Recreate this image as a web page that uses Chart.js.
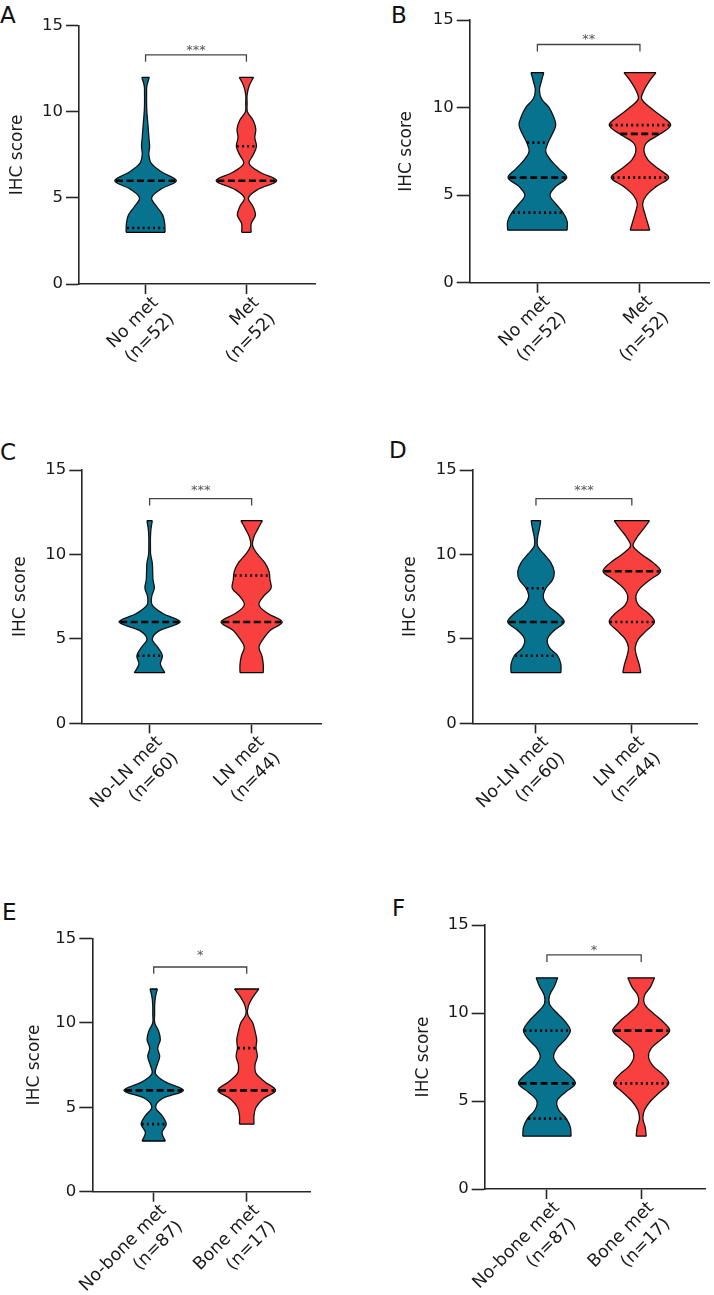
<!DOCTYPE html>
<html>
<head>
<meta charset="utf-8">
<script src="https://cdn.jsdelivr.net/npm/chart.js@4.4.0/dist/chart.umd.min.js"></script>
<style>
  body { margin: 0; background: #fff; width: 714px; height: 1295px; position: relative; overflow: hidden; font-family: "DejaVu Sans", sans-serif; }
  canvas { position: absolute; }
  .tag { position: absolute; font-size: 23px; line-height: 23px; color: #111; }
</style>
</head>
<body>
<div class="tag" style="left:0px;top:4px">A</div>
<div class="tag" style="left:391px;top:3.5px">B</div>
<div class="tag" style="left:0px;top:441px">C</div>
<div class="tag" style="left:389px;top:439px">D</div>
<div class="tag" style="left:2px;top:901px">E</div>
<div class="tag" style="left:392px;top:897px">F</div>

<canvas id="panelA"></canvas>
<canvas id="panelB"></canvas>
<canvas id="panelC"></canvas>
<canvas id="panelD"></canvas>
<canvas id="panelE"></canvas>
<canvas id="panelF"></canvas>

<script>
// score levels at which the violin half-widths were read
const scoreLevels = [3, 3.5, 4, 4.5, 5, 5.5, 6, 6.5, 7, 7.5, 8, 8.5, 9, 9.5, 10, 10.5, 11, 11.5, 12];

// half-width of each violin at every score level (null = outside data range)
const aNoMet = [0.193, 0.19, 0.17, 0.11, 0.06, 0.15, 0.305, 0.16, 0.057, 0.033, 0.04, 0.033, 0.027, 0.02, 0.013, 0.01, 0.01, 0.013, 0.037];
const aMet   = [0.047, 0.047, 0.09, 0.065, 0.02, 0.117, 0.30, 0.13, 0.027, 0.067, 0.10, 0.083, 0.093, 0.067, 0.01, 0.007, 0.007, 0.027, 0.07];
const bNoMet = [0.29, 0.29, 0.25, 0.18, 0.123, 0.18, 0.286, 0.21, 0.13, 0.081, 0.104, 0.146, 0.179, 0.156, 0.114, 0.04, 0.02, 0.039, 0.062];
const bMet   = [0.095, 0.07, 0.045, 0.026, 0.065, 0.16, 0.28, 0.18, 0.08, 0.04, 0.065, 0.2, 0.30, 0.21, 0.1, 0.016, 0.04, 0.09, 0.156];
const cNoMet = [0.15, 0.105, 0.125, 0.08, 0.026, 0.1, 0.30, 0.13, 0.026, 0.02, 0.046, 0.033, 0.03, 0.026, 0.01, 0.008, 0.008, 0.013, 0.026];
const cMet   = [0.114, 0.114, 0.1, 0.072, 0.114, 0.18, 0.30, 0.16, 0.072, 0.114, 0.19, 0.18, 0.17, 0.13, 0.06, 0.01, 0.02, 0.06, 0.105];
const dNoMet = [0.26, 0.26, 0.226, 0.139, 0.12, 0.19, 0.295, 0.226, 0.12, 0.076, 0.104, 0.174, 0.19, 0.156, 0.087, 0.017, 0.017, 0.035, 0.05];
const dMet   = [0.094, 0.076, 0.049, 0.035, 0.07, 0.156, 0.236, 0.174, 0.07, 0.042, 0.087, 0.19, 0.30, 0.226, 0.104, 0.014, 0.052, 0.12, 0.184];
const eNoMet = [0.125, 0.089, 0.135, 0.089, 0.021, 0.09, 0.32, 0.125, 0.018, 0.036, 0.064, 0.043, 0.071, 0.053, 0.01, 0.01, 0.01, 0.018, 0.039];
const eMet   = [null, null, 0.078, 0.078, 0.1, 0.178, 0.31, 0.196, 0.1, 0.089, 0.114, 0.1, 0.107, 0.089, 0.064, 0.01, 0.018, 0.064, 0.13];
const fNoMet = [0.256, 0.249, 0.206, 0.125, 0.107, 0.196, 0.302, 0.231, 0.125, 0.071, 0.107, 0.196, 0.249, 0.196, 0.107, 0.028, 0.028, 0.078, 0.114];
const fMet   = [0.053, 0.043, 0.018, 0.036, 0.1, 0.196, 0.292, 0.231, 0.125, 0.078, 0.107, 0.213, 0.302, 0.231, 0.125, 0.036, 0.036, 0.1, 0.142];

// [lower quartile, median, upper quartile]
const aNoMetQ = [3.25, 6, 6];
const aMetQ   = [6, 6, 8];
const bNoMetQ = [4, 6, 8];
const bMetQ   = [6, 8.5, 9];
const cNoMetQ = [4, 6, 6];
const cMetQ   = [6, 6, 8.75];
const dNoMetQ = [4, 6, 8];
const dMetQ   = [6, 9, 9];
const eNoMetQ = [4, 6, 6];
const eMetQ   = [6, 6, 8.5];
const fNoMetQ = [4, 6, 9];
const fMetQ   = [6, 9, 9];

const labelsMet  = [['No met', '(n=52)'], ['Met', '(n=52)']];
const labelsLN   = [['No-LN met', '(n=60)'], ['LN met', '(n=44)']];
const labelsBone = [['No-bone met', '(n=87)'], ['Bone met', '(n=17)']];
const yTicks = [0, 5, 10, 15];

const sigStars    = ['***', '**', '***', '***', '*', '*'];
const bracketTop  = [13.3, 13.6, 13.3, 13.3, 13.3, 13.3];
const bracketFoot = [12.9, 13.2, 12.9, 12.9, 12.9, 12.9];
const starY       = [13.8, 14.1, 14.0, 14.0, 14.2, 13.8];

const TEAL = '#08738f';
const RED = '#f8403f';
const INK = '#1a1a1a';
const AXIS = '#262626';
const FONT = '"DejaVu Sans", sans-serif';

// canvas box + chart-area edges (px, inside the canvas) + y title centre
const panels = [
  { id: 'panelA', left: 0,   top: 0,   w: 357, h: 410, L: 79,    T: 25.7, R: 315,   B: 284,   tx: 18,   labels: labelsMet,  groups: [aNoMet, aMet], quarts: [aNoMetQ, aMetQ] },
  { id: 'panelB', left: 357, top: 0,   w: 357, h: 410, L: 112.7, T: 20,   R: 352.7, B: 282.7, tx: 49.7, labels: labelsMet,  groups: [bNoMet, bMet], quarts: [bNoMetQ, bMetQ] },
  { id: 'panelC', left: 0,   top: 410, w: 357, h: 440, L: 82.3,  T: 60,   R: 321,   B: 313.3, tx: 20.8, labels: labelsLN,   groups: [cNoMet, cMet], quarts: [cNoMetQ, cMetQ] },
  { id: 'panelD', left: 357, top: 410, w: 357, h: 440, L: 115.7, T: 60,   R: 340,   B: 313.3, tx: 53.2, labels: labelsLN,   groups: [dNoMet, dMet], quarts: [dNoMetQ, dMetQ] },
  { id: 'panelE', left: 0,   top: 850, w: 357, h: 445, L: 92.3,  T: 88.3, R: 310,   B: 341.7, tx: 34.5, labels: labelsBone, groups: [eNoMet, eMet], quarts: [eNoMetQ, eMetQ] },
  { id: 'panelF', left: 357, top: 850, w: 357, h: 445, L: 127.7, T: 75,   R: 348.3, B: 339,   tx: 66.2, labels: labelsBone, groups: [fNoMet, fMet], quarts: [fNoMetQ, fMetQ] }
];

const TITLE_HALF = 10.2;

function hline(x0, x1, y, dash, width, order) {
  return {
    data: [{ x: x0, y }, { x: x1, y }],
    borderColor: '#000', borderWidth: width, borderDash: dash,
    tension: 0, fill: false, pointRadius: 0, order
  };
}

function violin(widths, quart, center, color) {
  const pts = scoreLevels.map((y, i) => ({ y, w: widths[i] })).filter(p => p.w != null);
  const first = pts[0];
  const last = pts[pts.length - 1];
  const widthAt = q => {
    for (let i = 0; i < pts.length - 1; i++) {
      if (q >= pts[i].y && q <= pts[i + 1].y) {
        const t = (q - pts[i].y) / (pts[i + 1].y - pts[i].y);
        return pts[i].w + t * (pts[i + 1].w - pts[i].w);
      }
    }
    return last.w;
  };
  const side = {
    borderColor: '#111', borderWidth: 1.3, tension: 0.35, pointRadius: 0
  };
  const sets = [
    { ...side, data: pts.map(p => ({ x: center + p.w, y: p.y })), fill: '+1', backgroundColor: color, order: 4 },
    { ...side, data: pts.map(p => ({ x: center - p.w, y: p.y })), fill: false, order: 3 },
    hline(center - first.w, center + first.w, first.y, [], 1.3, 2),
    hline(center - last.w, center + last.w, last.y, [], 1.3, 2)
  ];
  const [q1, med, q3] = quart;
  [q1, q3].filter(q => q !== med).forEach(q => {
    const w = widthAt(q) * 0.96;
    sets.push(hline(center - w, center + w, q, [2, 3.2], 2.6, 1));
  });
  const wm = widthAt(med) * 0.96;
  sets.push(hline(center - wm, center + wm, med, [7, 3.5], 2.6, 0));
  return sets;
}

const starPlugin = {
  id: 'stars',
  afterDatasetsDraw(chart, args, opts) {
    const { ctx, scales: { x, y } } = chart;
    ctx.save();
    ctx.font = '13px ' + FONT;
    ctx.fillStyle = '#555';
    ctx.textAlign = 'center';
    ctx.textBaseline = 'alphabetic';
    ctx.fillText(opts.text, x.getPixelForValue(1.5), y.getPixelForValue(opts.y) + 7.4);
    ctx.restore();
  }
};

panels.forEach((p, k) => {
  const canvas = document.getElementById(p.id);
  canvas.width = p.w;
  canvas.height = p.h;
  canvas.style.left = p.left + 'px';
  canvas.style.top = p.top + 'px';

  const datasets = [
    ...violin(p.groups[0], p.quarts[0], 1, TEAL),
    ...violin(p.groups[1], p.quarts[1], 2, RED),
    {
      data: [{ x: 1, y: bracketFoot[k] }, { x: 1, y: bracketTop[k] }, { x: 2, y: bracketTop[k] }, { x: 2, y: bracketFoot[k] }],
      borderColor: '#444', borderWidth: 1.3, tension: 0, fill: false, pointRadius: 0, order: 0
    }
  ];

  const padLeft = p.tx - TITLE_HALF;
  const xBox = p.h - p.B;   // x-axis box runs to the bottom of the canvas so labels are not clipped

  new Chart(canvas, {
    type: 'line',
    data: { datasets },
    options: {
      indexAxis: 'y',
      responsive: false,
      animation: false,
      events: [],
      layout: {
        padding: { left: padLeft, top: p.T, right: p.w - p.R, bottom: 0 }
      },
      plugins: {
        legend: { display: false },
        tooltip: { enabled: false },
        stars: { text: sigStars[k], y: starY[k] }
      },
      scales: {
        x: {
          type: 'linear',
          min: 0.34,
          max: 2.68,
          afterBuildTicks: s => { s.ticks = [{ value: 1 }, { value: 2 }]; },
          afterFit: s => { s.height = xBox; s.paddingLeft = 0; s.paddingRight = 0; },
          ticks: {
            callback: v => p.labels[v - 1],
            autoSkip: false,
            minRotation: 45,
            maxRotation: 45,
            padding: -2,
            labelOffset: 10,
            color: INK,
            font: { family: FONT, size: 17.5, lineHeight: 1.32 }
          },
          grid: { drawOnChartArea: false, tickLength: 10, tickWidth: 1.6, tickColor: AXIS },
          border: { color: AXIS, width: 1.6 }
        },
        y: {
          type: 'linear',
          min: 0,
          max: 15,
          afterBuildTicks: s => { s.ticks = yTicks.map(v => ({ value: v })); },
          afterFit: s => { s.width = p.L - padLeft; s.paddingTop = 0; s.paddingBottom = 0; },
          ticks: { padding: 3, color: INK, font: { family: FONT, size: 16.5 } },
          title: { display: true, text: 'IHC score', color: INK, padding: 0, font: { family: FONT, size: 17 } },
          grid: { drawOnChartArea: false, tickLength: 13, tickWidth: 1.6, tickColor: AXIS },
          border: { color: AXIS, width: 1.6 }
        }
      }
    },
    plugins: [starPlugin]
  });
});
</script>
</body>
</html>
